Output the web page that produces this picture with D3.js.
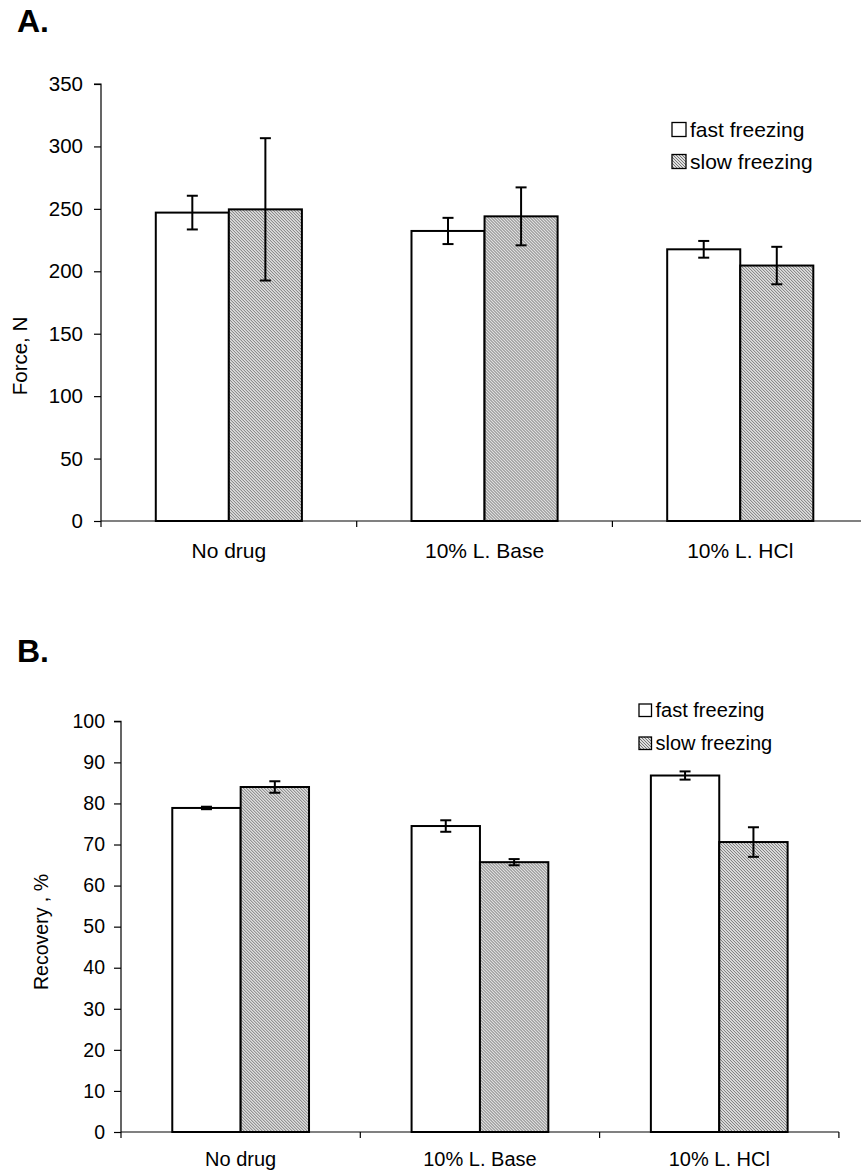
<!DOCTYPE html>
<html>
<head>
<meta charset="utf-8">
<script src="https://cdn.jsdelivr.net/npm/d3@7/dist/d3.min.js"></script>
<style>
  html, body { margin: 0; padding: 0; background: #fff; }
  svg { display: block; font-family: "Liberation Sans", Arial, Helvetica, sans-serif; }
</style>
</head>
<body>
<svg id="chart" width="861" height="1173"></svg>
<script>
// ---------- data ----------
const categories = ["No drug", "10% L. Base", "10% L. HCl"];
const seriesNames = ["fast freezing", "slow freezing"];

const forceTicks = [0, 50, 100, 150, 200, 250, 300, 350];
const forceFast = [247, 232.3, 217.6];
const forceFastErr = [13.5, 10.5, 6.7];
const forceSlow = [249.6, 244, 204.6];
const forceSlowErr = [57, 23.2, 15];

const recTicks = [0, 10, 20, 30, 40, 50, 60, 70, 80, 90, 100];
const recFast = [78.9, 74.5, 86.8];
const recFastErr = [0.3, 1.4, 1.0];
const recSlow = [84.0, 65.7, 70.6];
const recSlowErr = [1.4, 0.75, 3.6];

// ---------- drawing ----------
const svg = d3.select("#chart");
const defs = svg.append("defs");
const pat = defs.append("pattern")
  .attr("id", "hatch").attr("patternUnits", "userSpaceOnUse")
  .attr("width", 3).attr("height", 3);
pat.append("rect").attr("width", 3).attr("height", 3).attr("fill", "#dedede");
pat.append("path").attr("d", "M0,0L3,3M-1,2L1,4M2,-1L4,1")
  .attr("stroke", "#6a6a6a").attr("stroke-width", 0.9);

function panel(cfg) {
  const g = svg.append("g");
  const y = d3.scaleLinear().domain(cfg.domain).range([cfg.y0, cfg.y1]);
  const x = d3.scaleBand().domain(categories).range([cfg.x0, cfg.x1])
    .paddingInner(1.5 / 3.5).paddingOuter(0.75 / 3.5);
  const xs = d3.scaleBand().domain(seriesNames).range([0, x.bandwidth()]);
  const xb = d3.scaleLinear().domain([0, categories.length]).range([cfg.x0, cfg.x1]);

  // panel title
  g.append("text").attr("x", 17).attr("y", cfg.titleY)
    .attr("font-size", 32).attr("font-weight", "bold").text(cfg.title);

  // y axis
  const yAxis = d3.axisLeft(y).tickValues(cfg.ticks).tickSize(7).tickPadding(cfg.tickPad)
    .tickFormat(d3.format("d"));
  const ya = g.append("g").attr("transform", `translate(${cfg.x0},0)`).call(yAxis);
  ya.select(".domain").attr("stroke", "#000").attr("stroke-width", 1.2)
    .attr("d", `M-7,${cfg.y1}H0V${cfg.y0}`);
  ya.selectAll(".tick line").attr("stroke", "#000").attr("stroke-width", 1.2);
  ya.selectAll(".tick text").attr("font-size", cfg.tickFont).attr("fill", "#000")
    .attr("font-family", "Liberation Sans, Arial, sans-serif");

  // y label
  g.append("text")
    .attr("transform", `translate(${cfg.labelX},${cfg.labelY}) rotate(-90)`)
    .attr("text-anchor", "middle").attr("font-size", cfg.tickFont).text(cfg.yLabel);

  // bars
  const rows = categories.map((c, i) => ({
    c,
    vals: [
      { s: seriesNames[0], v: cfg.fast[i], e: cfg.fastErr[i] },
      { s: seriesNames[1], v: cfg.slow[i], e: cfg.slowErr[i] }
    ]
  }));
  const cg = g.selectAll(".cat").data(rows).enter().append("g")
    .attr("transform", d => `translate(${x(d.c)},0)`);

  // x axis line (drawn before bars so bar outlines sit on it)
  g.insert("line", ":first-child")
    .attr("x1", xb(0)).attr("x2", xb(categories.length))
    .attr("y1", y(0)).attr("y2", y(0))
    .attr("stroke", "#808080").attr("stroke-width", 2);
  g.selectAll(".xtick").data(d3.range(categories.length + 1)).enter().append("line")
    .attr("x1", d => xb(d)).attr("x2", d => xb(d))
    .attr("y1", y(0)).attr("y2", y(0) + 6)
    .attr("stroke", "#000").attr("stroke-width", 1.2);

  cg.selectAll("rect").data(d => d.vals).enter().append("rect")
    .attr("x", d => xs(d.s)).attr("width", xs.bandwidth())
    .attr("y", d => y(d.v)).attr("height", d => y(0) - y(d.v))
    .attr("fill", d => d.s === seriesNames[0] ? "#fff" : "url(#hatch)")
    .attr("stroke", "#000").attr("stroke-width", 2);

  // error bars
  const eb = cg.selectAll(".err").data(d => d.vals).enter().append("g");
  const cx = d => xs(d.s) + xs.bandwidth() / 2;
  eb.append("line").attr("x1", cx).attr("x2", cx)
    .attr("y1", d => y(d.v + d.e)).attr("y2", d => y(d.v - d.e))
    .attr("stroke", "#000").attr("stroke-width", 2);
  eb.selectAll(".cap").data(d => [d, Object.assign({}, d, { e: -d.e })]).enter().append("line")
    .attr("x1", d => cx(d) - 5.5).attr("x2", d => cx(d) + 5.5)
    .attr("y1", d => y(d.v + d.e)).attr("y2", d => y(d.v + d.e))
    .attr("stroke", "#000").attr("stroke-width", 2);

  // category labels
  g.selectAll(".clab").data(categories).enter().append("text")
    .attr("x", d => x(d) + x.bandwidth() / 2).attr("y", cfg.catY)
    .attr("text-anchor", "middle").attr("font-size", cfg.catFont).text(d => d);

  // legend
  const lg = g.selectAll(".leg").data(seriesNames).enter().append("g")
    .attr("transform", (d, i) => `translate(${cfg.legX},${cfg.legY + i * cfg.legStep})`);
  lg.append("rect").attr("x", 0).attr("y", -cfg.box - 0.5).attr("width", cfg.box).attr("height", cfg.box)
    .attr("fill", (d, i) => i === 0 ? "#fff" : "url(#hatch)")
    .attr("stroke", "#000").attr("stroke-width", 1.3);
  lg.append("text").attr("x", cfg.box + 4).attr("y", 0)
    .attr("font-size", cfg.catFont).text(d => d);
}

panel({
  title: "A.", titleY: 32,
  domain: [0, 350], ticks: forceTicks,
  y0: 521, y1: 84, x0: 101, x1: 101 + 3 * 255.7,
  fast: forceFast, fastErr: forceFastErr, slow: forceSlow, slowErr: forceSlowErr,
  tickPad: 11, tickFont: 20.5, catFont: 21, catY: 558,
  yLabel: "Force, N", labelX: 27, labelY: 356,
  legX: 672, legY: 137, legStep: 32, box: 14
});

panel({
  title: "B.", titleY: 662,
  domain: [0, 100], ticks: recTicks,
  y0: 1132, y1: 721.3, x0: 121, x1: 121 + 3 * 239.3,
  fast: recFast, fastErr: recFastErr, slow: recSlow, slowErr: recSlowErr,
  tickPad: 9, tickFont: 19.5, catFont: 20, catY: 1166,
  yLabel: "Recovery , %", labelX: 48, labelY: 932,
  legX: 639, legY: 717, legStep: 33, box: 12.5
});
</script>
</body>
</html>
